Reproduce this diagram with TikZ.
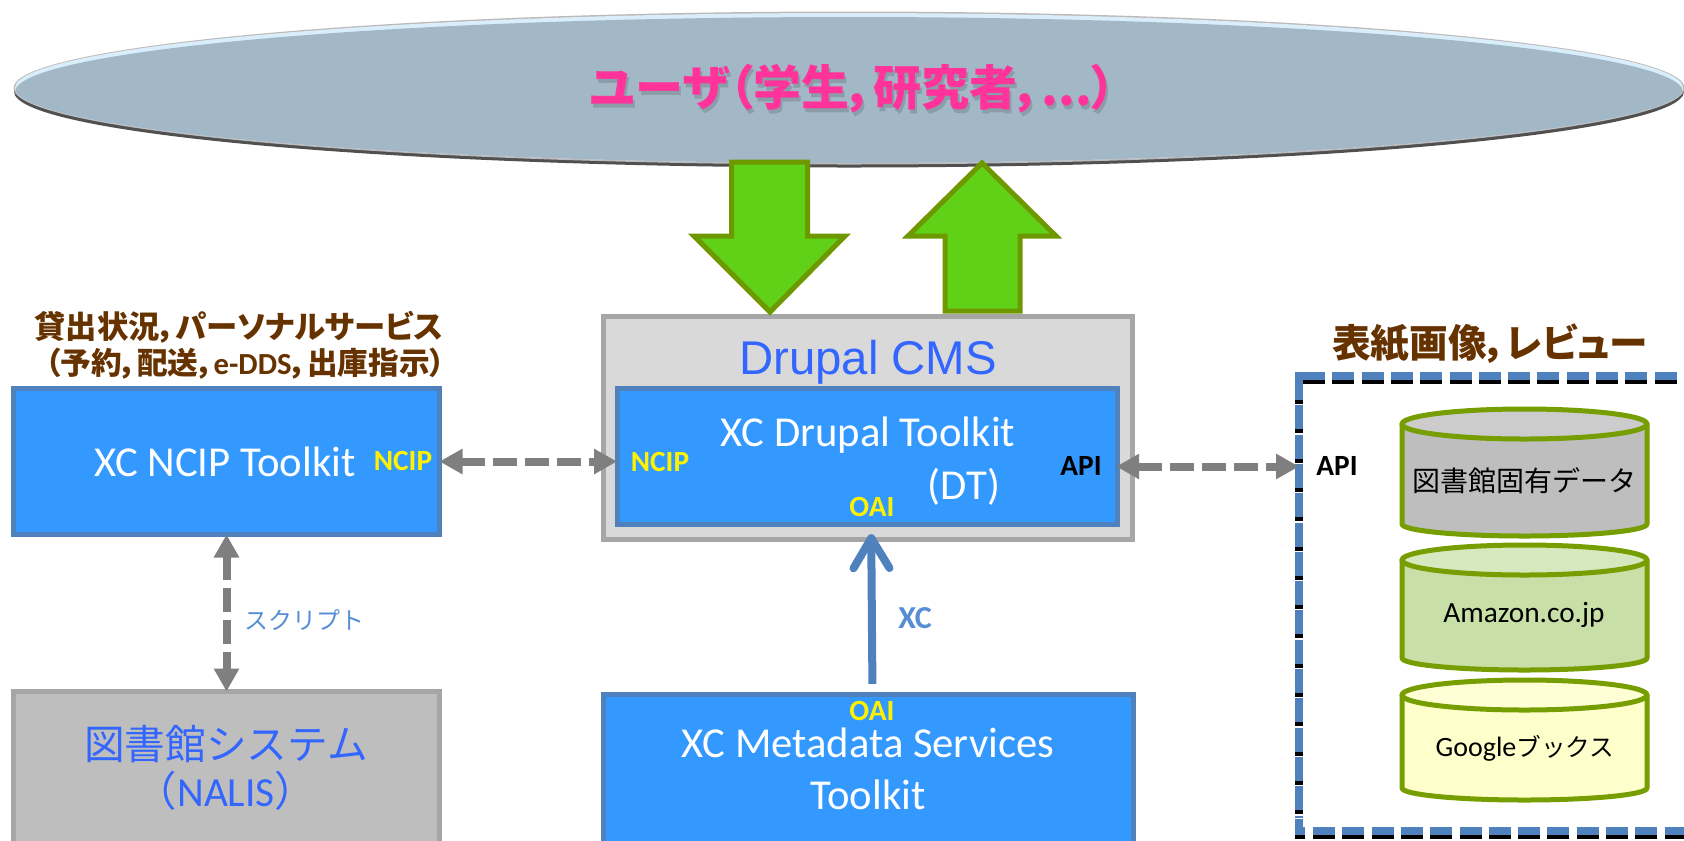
\documentclass[tikz,border=0pt]{standalone}
\usepackage{fontspec}
\setmainfont{Carlito}
\newfontfamily\cjk{Noto Sans CJK JP}
\newfontfamily\cjkp[RawFeature=+palt]{Noto Sans CJK JP}
\newfontfamily\arialf{Liberation Sans}
\usetikzlibrary{arrows.meta,calc}
\definecolor{boxblue}{HTML}{3399FF}
\definecolor{edgeblue}{HTML}{4F81BD}
\definecolor{greyfill}{HTML}{BEBEBE}
\definecolor{lightgrey}{HTML}{D9D9D9}
\definecolor{greyedge}{HTML}{A6A6A6}
\definecolor{linkgrey}{HTML}{7F7F7F}
\definecolor{titleblue}{HTML}{3366FF}
\definecolor{brownlabel}{HTML}{663300}
\definecolor{softblue}{HTML}{558ED5}
\definecolor{pinktitle}{HTML}{FF3399}
\definecolor{pinkshadow}{HTML}{8A9DA9}
\definecolor{skyfill}{HTML}{A3B8C6}
\definecolor{skylight}{HTML}{D8EEFA}
\definecolor{skyedge}{HTML}{BFB8B8}
\definecolor{skyshadow}{HTML}{505050}
\definecolor{greenfill}{HTML}{61D118}
\definecolor{greenedge}{HTML}{6E9800}
\definecolor{cyledge}{HTML}{779E00}
\def\px{.75pt}
\newcommand{\fs}[1]{\fontsize{#1}{#1}\selectfont}
\newcommand{\titletext}{ユーザ（学生，研究者，...）}
\tikzset{
  every node/.style={inner sep=0pt,outer sep=0pt},
  rectbox/.style={rectangle,anchor=north west,line width=5*\px},
  bluebox/.style={rectbox,draw=edgeblue,fill=boxblue},
  greybox/.style={rectbox,draw=greyedge,fill=greyfill},
  cmsbox/.style={rectbox,draw=greyedge,fill=lightgrey},
  whitetext/.style={text=white,font=\fs{32}},
  porttag/.style={font=\fs{22}\bfseries},
  yellowtag/.style={porttag,text=yellow},
  blacktag/.style={porttag,text=black},
  brownhead/.style={text=brownlabel,font=\cjk\bfseries\fs{22.5}},
  linktwo/.style={draw=linkgrey,line width=8*\px,dash pattern=on 24*\px off 8*\px,
    {Triangle[length=23*\px,width=24*\px]}-{Triangle[length=23*\px,width=24*\px]}},
  bigarrow/.style={draw=greenedge,fill=greenfill,line width=5*\px,miter limit=10},
  cylshape/.style={draw=cyledge,line width=5*\px,line join=round},
  cyltext/.style={text=black,font=\fs{22}},
  framehoriz/.style={line width=8*\px,dash pattern=on 22*\px off 7.3*\px},
  framevert/.style={line width=8*\px,dash pattern=on 24*\px off 5.3*\px},
  framesolid/.style={line width=8*\px},
  titlefont/.style={font=\cjkp\bfseries\fs{36}},
}
\begin{document}
\begin{tikzpicture}[x=.75pt,y=-.75pt]
\useasboundingbox (0,0) rectangle (1684,840);
\clip (0,0) rectangle (1684,840);

% user ellipse
\fill[skyshadow] (849,91.5) ellipse [x radius=835,y radius=76];
\fill[skyedge] (849,88) ellipse [x radius=835.5,y radius=76.5];
\begin{scope}
\clip (849,88) ellipse [x radius=834,y radius=75];
\fill[skylight] (0,0) rectangle (1684,170);
\fill[skyfill] (849,92) ellipse [x radius=834,y radius=75];
\end{scope}
\node[text=pinkshadow,titlefont] (titleshadow) at (855,92.5) {\titletext};
\node[text=pinktitle,titlefont] (title) at (853,89) {\titletext};

% boxes
\node[cmsbox,minimum width=529*\px,minimum height=223.5*\px] (cms) at (603.5,316) {};
\node[bluebox,minimum width=500.5*\px,minimum height=136*\px] (dt) at (617,388.5) {};
\node[bluebox,minimum width=426*\px,minimum height=146*\px] (ncip) at (13.5,388.5) {};
\node[greybox,minimum width=426*\px,minimum height=200*\px] (lib) at (13.5,691.5) {};
\node[bluebox,minimum width=530*\px,minimum height=200*\px] (mst) at (603.5,694.5) {};
\node[rectangle,anchor=north west,minimum width=420*\px,minimum height=455*\px] (frame) at (1299,376) {};

% dashed frame: black copy 4 px lower, blue on top
\begin{scope}[yshift=-3pt]
\draw[framehoriz,black] (1303,376) -- (1700,376);
\draw[framevert,black] (1299,376) -- (1299,818);
\draw[framesolid,black] (1295,831) -- (1305,831);
\draw[framehoriz,black] (1313,831) -- (1700,831);
\end{scope}
\draw[framehoriz,edgeblue] (1303,376) -- (1700,376);
\draw[framevert,edgeblue] (1299,376) -- (1299,818);
\draw[framesolid,edgeblue] (1299,372) -- (1299,380);
\draw[framesolid,edgeblue] (1299,819) -- (1299,835);
\draw[framesolid,edgeblue] (1295,831) -- (1305,831);
\draw[framehoriz,edgeblue] (1313,831) -- (1700,831);

% cylinders
\newcommand{\dbcyl}[4]{%
  \draw[cylshape,fill=#3] (1402,#1) -- (1402,#2-12) arc[start angle=180,end angle=0,x radius=122.5,y radius=12]
     -- (1647,#1) -- cycle;
  \draw[cylshape,fill=#4] (1524.5,#1) ellipse [x radius=122.5,y radius=15];
}
\definecolor{cylgreyb}{HTML}{BEBEBE}\definecolor{cylgreyt}{HTML}{CCCCCC}
\definecolor{cylgreenb}{HTML}{C8DFA8}\definecolor{cylgreent}{HTML}{D6E8BE}
\definecolor{cylyelb}{HTML}{FFFFCC}\definecolor{cylyelt}{HTML}{FFFFD6}
\dbcyl{424}{536}{cylgreyb}{cylgreyt}
\dbcyl{560}{670}{cylgreenb}{cylgreent}
\dbcyl{695}{800}{cylyelb}{cylyelt}
\node[cyltext,font=\cjk\fs{21}] (cyla) at (1524,481) {図書館固有データ};
\node[cyltext] (cylb) at (1524,615) {Amazon.co.jp};
\node[cyltext,font=\fs{21}] (cylc) at (1525,748) {Google{\cjk\fs{18.5}ブックス}};

% connectors
\draw[linktwo] (ncip.east) -- (ncip.east -| dt.west);
\draw[linktwo,shorten <=-1pt] ([yshift=-7.5pt]dt.east) -- ([yshift=-7.5pt]dt.east -| frame.west);
\draw[linktwo] (ncip.south) -- (lib.north);
\draw[edgeblue,line width=8*\px,line cap=butt,-{Straight Barb[round,length=30*\px,width=36*\px,line width=8*\px]},shorten <=8pt,shorten >=-4pt] ([xshift=3pt]mst.north) -- ([xshift=3pt]dt.south |- cms.south);

% green arrows
\draw[bigarrow] (731.5,162) -- (807.5,162) -- (807.5,236) -- (845,236) -- (770,312) -- (694,236) -- (731.5,236) -- cycle;
\draw[bigarrow] (982,163) -- (1056,236) -- (1020,236) -- (1020,311) -- (945,311) -- (945,236) -- (908,236) -- cycle;

% labels
\node[text=titleblue,font=\arialf\fs{35.5}] (cmslabel) at (868,362) {Drupal CMS};
\node[whitetext] (dtone) at (868,435) {XC Drupal Toolkit};
\node[whitetext] (dttwo) at (964,487) {(DT)};
\node[yellowtag] (ncipb) at (660,462) {NCIP};
\node[yellowtag] (oaidt) at (872,507) {OAI};
\node[blacktag] (apidt) at (1081,466) {API};
\node[blacktag] (apiframe) at (1337,466) {API};
\node[whitetext] (nciplabel) at (225,462) {XC NCIP Toolkit};
\node[yellowtag] (ncipa) at (403,461) {NCIP};
\node[text=titleblue,font=\fs{31},align=center] (liblabel) at (226,768) {{\cjk\fs{30.5}図書館システム}\\[4pt]{\cjk （}NALIS{\cjk ）}};
\node[whitetext,align=center] (mstlabel) at (868,769) {XC Metadata Services\\[7pt]Toolkit};
\node[yellowtag] (oaimst) at (872,711) {OAI};
\node[text=softblue,porttag,font=\fs{24}\bfseries] (xclabel) at (915,618) {XC};
\node[text=softblue,font=\cjk\fs{18}] (script) at (304,620) {スクリプト};
\node[brownhead,font=\cjkp\bfseries\fs{23.5}] (loanone) at (239,327) {貸出状況，パーソナルサービス};
\node[brownhead,font=\cjkp\bfseries\fs{23}] (loantwo) at (245,364) {（予約，配送，{\rmfamily\bfseries e-DDS}，出庫指示）};
\node[brownhead,font=\cjkp\bfseries\fs{29}] (coverlabel) at (1490,344) {表紙画像，レビュー};
\end{tikzpicture}
\end{document}
